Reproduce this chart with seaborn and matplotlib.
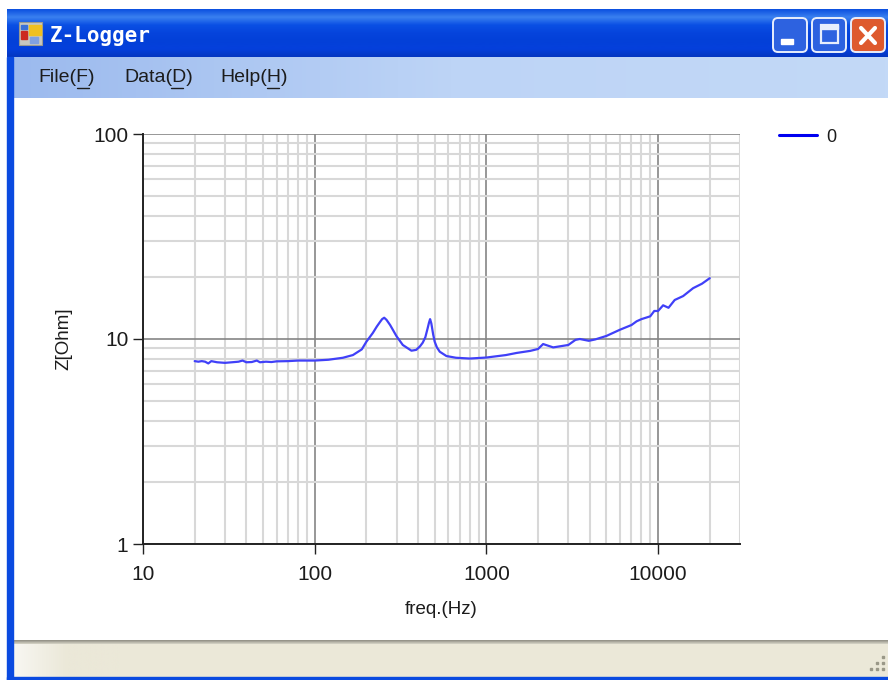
import numpy as np
import pandas as pd
import seaborn as sns
import matplotlib
matplotlib.use('Agg')
import matplotlib.pyplot as plt
from matplotlib.colors import LinearSegmentedColormap
from matplotlib.patches import FancyBboxPatch, Rectangle
from matplotlib.ticker import FixedLocator, FuncFormatter, NullFormatter

# values
freq = [20, 21, 22, 23, 24, 25, 27, 30, 33, 36, 38, 40, 43, 46, 48, 52, 56, 60, 70, 80, 90, 100,
        120, 146, 167, 188, 200, 218, 230, 240, 247, 254, 262, 275, 300, 326, 366, 390, 410, 426, 441,
        455, 463, 470, 478, 490, 500, 515, 535, 585, 665, 800, 1000, 1300, 1500, 1800, 2000, 2140, 2450,
        3000, 3300, 3500, 3950, 4300, 5000, 6000, 7000, 7500, 8000, 9000, 9500, 10000, 10700, 11500,
        12500, 14000, 16000, 18000, 20000]
impedance = [7.8, 7.75, 7.8, 7.75, 7.6, 7.8, 7.7, 7.65, 7.7, 7.75, 7.85, 7.7, 7.72, 7.85, 7.7, 7.75, 7.72,
             7.78, 7.8, 7.85, 7.85, 7.85, 7.92, 8.1, 8.35, 8.9, 9.7, 10.7, 11.5, 12.1, 12.5, 12.7, 12.4,
             11.7, 10.3, 9.35, 8.77, 8.85, 9.2, 9.6, 10.2, 11.3, 12.0, 12.5, 11.9, 10.5, 9.7, 9.1, 8.67, 8.26,
             8.1, 8.03, 8.12, 8.35, 8.55, 8.75, 8.94, 9.45, 9.1, 9.35, 9.9, 10.0, 9.8, 9.95, 10.35, 11.1,
             11.7, 12.2, 12.5, 12.9, 13.7, 13.7, 14.6, 14.2, 15.5, 16.2, 17.7, 18.6, 19.8]
x_ticks = [10, 100, 1000, 10000]
y_ticks = [1, 10, 100]
menu_items = ['File(F)', 'Data(D)', 'Help(H)']

W, H = 888, 680
font = 'Liberation Sans'
text_col = '#1c1c1c'

sns.set_theme(style='white')
plt.rcParams['font.family'] = [font, 'DejaVu Sans']

fig = plt.figure(figsize=(W / 100, H / 100), dpi=100, facecolor='white')

# window frame, drawn in pixel coordinates
chrome = fig.add_axes([0, 0, 1, 1], zorder=0)
chrome.axis('off')


def gradient(colors, extent, vertical=True):
    cmap = LinearSegmentedColormap.from_list('g', colors)
    g = np.linspace(0, 1, 200)
    g = g[:, None] if vertical else g[None, :]
    chrome.imshow(g, cmap=cmap, extent=extent, aspect='auto', origin='upper', zorder=1)


gradient(['#0b4fe0', '#3a80f0', '#0a4fe4', '#0644dc', '#0340d8', '#0540dc', '#0436c0'], (7, W, 57, 9))
gradient(['#9cbaee', '#bdd4f6', '#c3d9f7'], (13, W, 98, 57), vertical=False)
gradient(['#f8f7f2', '#ebe8d8', '#ebe8d8'], (13, 120, 677, 643), vertical=False)
chrome.add_patch(Rectangle((120, 643), W - 120, 34, color='#ebe8d8', zorder=1))
gradient(['#8c8a80', '#d8d6c8'], (13, W, 644, 640))
chrome.add_patch(Rectangle((7, 57), 6, 623, color='#0a4ae0', zorder=2))
chrome.add_patch(Rectangle((7, 677), W - 7, 3, color='#0a4ae0', zorder=2))

# window buttons
for x0, c1 in [(773, '#2d62e0'), (812, '#2d62e0'), (851, '#de5a2e')]:
    chrome.add_patch(FancyBboxPatch((x0 + 2, 20), 30, 30, boxstyle='round,pad=2,rounding_size=5',
                                    fc=c1, ec='#e8eefc', lw=1.4, zorder=3))
chrome.add_patch(Rectangle((781, 39), 12, 5, color='white', zorder=4))
chrome.add_patch(Rectangle((821, 25), 17, 18, fc='none', ec='#e8eefc', lw=1.6, zorder=4))
chrome.add_patch(Rectangle((821, 25), 17, 4, color='#e8eefc', zorder=4))
chrome.plot([861, 875], [28, 43], color='white', lw=3, zorder=4)
chrome.plot([875, 861], [28, 43], color='white', lw=3, zorder=4)

# app icon
chrome.add_patch(Rectangle((19, 22), 23, 23, fc='#c8c8c0', ec='#9a9a90', lw=0.8, zorder=3))
chrome.add_patch(Rectangle((29, 25), 12, 10, color='#f0c020', zorder=4))
chrome.add_patch(Rectangle((21, 31), 6, 8, color='#cc2a20', zorder=4))
chrome.add_patch(Rectangle((21, 25), 6, 4, color='#3a70d8', zorder=4))
chrome.add_patch(Rectangle((30, 37), 8, 6, color='#80a0e0', zorder=4))

chrome.text(50, 36, 'Z-Logger', color='white', fontsize=15, fontweight='bold', family='DejaVu Sans Mono',
            va='center', ha='left', zorder=5)

# menu bar with underlined mnemonics
for label, x0, ux in zip(menu_items, [38, 124, 220], [(77, 89), (171, 183), (267, 279)]):
    chrome.text(x0, 78, label, color=text_col, fontsize=14, va='center', ha='left', zorder=5)
    chrome.plot(ux, [88, 88], color=text_col, lw=1, zorder=5)

# grip in the status bar corner
for gx, gy in [(882, 656), (882, 662), (876, 662), (882, 668), (876, 668), (870, 668)]:
    chrome.add_patch(Rectangle((gx, gy), 2, 2, color='#9a9888', zorder=4))

chrome.set_xlim(0, W)
chrome.set_ylim(H, 0)

# the chart itself
ax = fig.add_axes([143 / W, 1 - 544 / H, (740 - 143) / W, (544 - 134) / H], zorder=1)
ax.patch.set_alpha(0)
df = pd.DataFrame({'freq': freq, 'Z': impedance})
sns.lineplot(data=df, x='freq', y='Z', ax=ax, color='#4040f8', lw=1.6, label='0', estimator=None, sort=False,
             zorder=5, solid_joinstyle='round')
ax.set_xscale('log')
ax.set_yscale('log')
ax.set_xlim(10, 30000)
ax.set_ylim(1, 100)

minor_x = [m * 10 ** e for e in range(1, 5) for m in range(2, 10) if m * 10 ** e <= 30000]
minor_y = [m * 10 ** e for e in range(0, 2) for m in range(2, 10)]
ax.xaxis.set_major_locator(FixedLocator(x_ticks))
ax.yaxis.set_major_locator(FixedLocator(y_ticks))
ax.xaxis.set_minor_locator(FixedLocator(minor_x))
ax.yaxis.set_minor_locator(FixedLocator(minor_y))
ax.xaxis.set_major_formatter(FuncFormatter(lambda v, p: f'{int(v)}'))
ax.yaxis.set_major_formatter(FuncFormatter(lambda v, p: f'{int(v)}'))
ax.xaxis.set_minor_formatter(NullFormatter())
ax.yaxis.set_minor_formatter(NullFormatter())

ax.set_axisbelow(True)
ax.grid(which='minor', color='#d8d8d8', lw=1.5)
ax.grid(which='major', color='#858585', lw=1.2)
ax.tick_params(which='major', length=7, width=1, color='#222222', labelsize=15, labelcolor=text_col,
               bottom=True, left=True)
ax.tick_params(axis='x', which='major', pad=8)
ax.tick_params(axis='y', which='major', pad=3.5)
ax.tick_params(which='minor', length=0)

for s in ['top', 'right']:
    ax.spines[s].set_visible(False)
for s in ['left', 'bottom']:
    ax.spines[s].set_color('#222222')
    ax.spines[s].set_linewidth(1.4)

ax.set_xlabel('freq.(Hz)', fontsize=13.5, color=text_col, labelpad=12)
ax.set_ylabel('Z[Ohm]', fontsize=13.5, color=text_col, labelpad=15)

leg = ax.legend(loc='center left', bbox_to_anchor=(779 / W, 1 - 137 / H), bbox_transform=fig.transFigure,
                frameon=False, fontsize=13, handlelength=2.1, handletextpad=0.5, borderpad=0, borderaxespad=0)
leg.get_lines()[0].set_color('#0000f0')
leg.get_lines()[0].set_linewidth(2.2)
leg.get_texts()[0].set_color(text_col)

fig.savefig('out.png', dpi=100)
